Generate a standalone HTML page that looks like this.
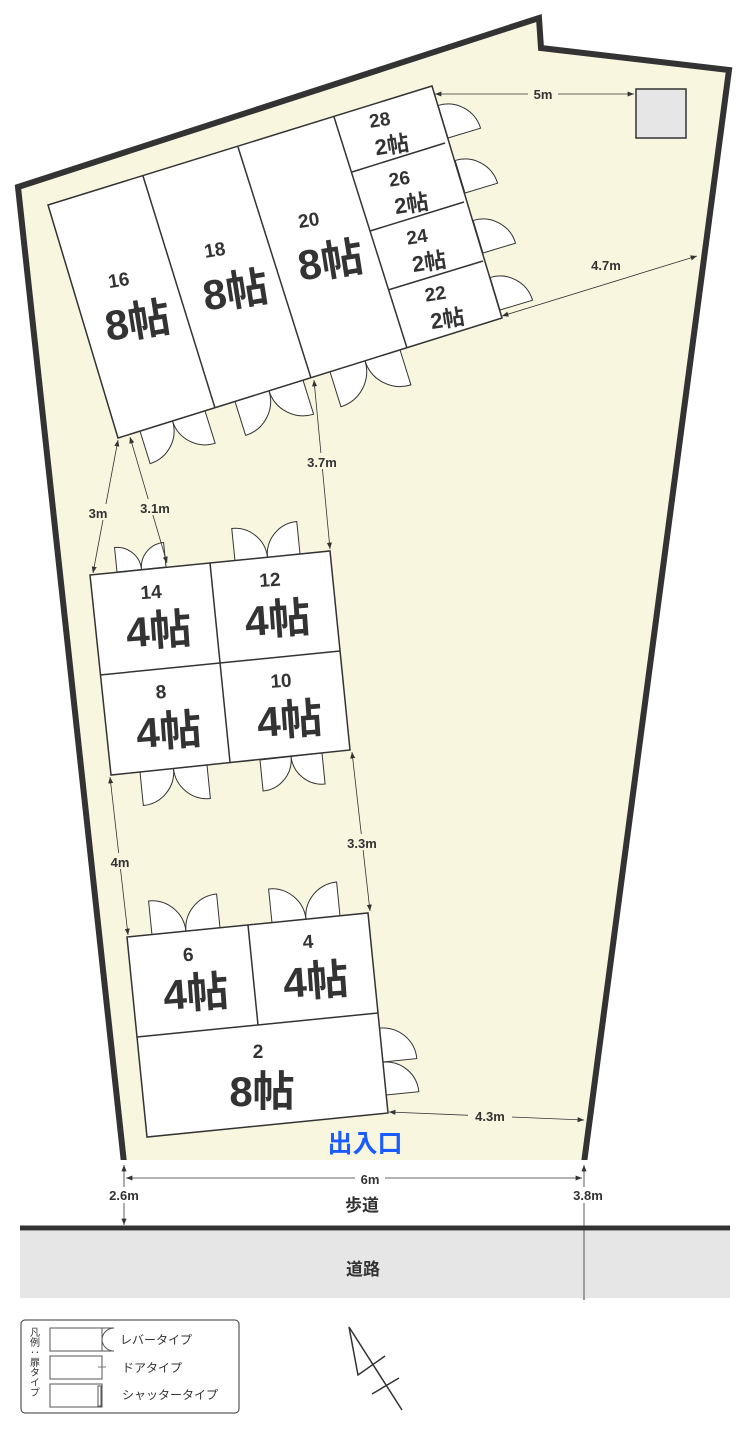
<!DOCTYPE html>
<html><head><meta charset="utf-8"><style>
html,body{margin:0;padding:0;background:#fff;}
svg{display:block;font-family:"Liberation Sans","Noto Sans CJK JP",sans-serif;}
.n{font-size:19px;font-weight:bold;fill:#333;}
.b{font-size:42px;font-weight:bold;fill:#333;}
.s{font-size:22px;font-weight:bold;fill:#333;}
.d{font-size:13px;font-weight:bold;fill:#333;}
.w{fill:#fff;stroke:#333;stroke-width:1.5;}
.l{stroke:#333;stroke-width:1.5;fill:none;}
.dm{stroke:#333;stroke-width:0.8;fill:none;marker-start:url(#a);marker-end:url(#a);}
</style></head><body>
<svg id="s" width="750" height="1435" viewBox="0 0 750 1435">
<defs><marker id="a" viewBox="0 0 10 10" refX="10" refY="5" markerWidth="8" markerHeight="8" orient="auto-start-reverse"><path d="M0,1 L10,5 L0,9 z" fill="#333"/></marker></defs>
<polygon points="18,187 539,18 541,48 729,70 584,1163 124,1163" fill="#f9f6df" stroke="#333" stroke-width="6" stroke-linejoin="miter"/>
<rect x="120" y="1160" width="470" height="8" fill="#fff"/>
<g id="doors"></g>
<!-- top building -->
<polygon class="w" points="48,205 432,86 502,318 118,438"/>
<g class="l">
<line x1="143" y1="176" x2="215" y2="408"/>
<line x1="238" y1="147" x2="311" y2="378"/>
<line x1="334" y1="117" x2="407" y2="348"/>
<line x1="352" y1="172" x2="445" y2="143"/>
<line x1="370" y1="231" x2="464" y2="202"/>
<line x1="388" y1="290" x2="483" y2="261"/>
</g>
<g transform="rotate(-9 130 300)"><text class="n" x="122" y="285" text-anchor="middle">16</text><text class="b" x="134" y="337" text-anchor="middle">8帖</text></g>
<g transform="rotate(-9 225 270)"><text class="n" x="218" y="255" text-anchor="middle">18</text><text class="b" x="232" y="307" text-anchor="middle">8帖</text></g>
<g transform="rotate(-9 320 240)"><text class="n" x="312" y="225" text-anchor="middle">20</text><text class="b" x="327" y="277" text-anchor="middle">8帖</text></g>
<g transform="rotate(-9 390 140)"><text class="n" x="383" y="125" text-anchor="middle">28</text><text class="s" x="391" y="153" text-anchor="middle">2帖</text></g>
<g transform="rotate(-9 408 195)"><text class="n" x="402" y="184" text-anchor="middle">26</text><text class="s" x="410" y="212" text-anchor="middle">2帖</text></g>
<g transform="rotate(-9 426 255)"><text class="n" x="420" y="242" text-anchor="middle">24</text><text class="s" x="428" y="270" text-anchor="middle">2帖</text></g>
<g transform="rotate(-9 444 310)"><text class="n" x="438" y="299" text-anchor="middle">22</text><text class="s" x="446" y="327" text-anchor="middle">2帖</text></g>
<!-- middle building -->
<polygon class="w" points="90,575 330,551 350,750 111,775"/>
<g class="l"><line x1="210" y1="563" x2="230" y2="762"/><line x1="100" y1="675" x2="340" y2="651"/></g>
<g transform="rotate(-4 160 620)"><text class="n" x="153" y="598" text-anchor="middle">14</text><text class="b" x="158" y="645" text-anchor="middle">4帖</text></g>
<g transform="rotate(-4 275 610)"><text class="n" x="272" y="586" text-anchor="middle">12</text><text class="b" x="277" y="634" text-anchor="middle">4帖</text></g>
<g transform="rotate(-4 165 720)"><text class="n" x="163" y="698" text-anchor="middle">8</text><text class="b" x="168" y="746" text-anchor="middle">4帖</text></g>
<g transform="rotate(-4 285 710)"><text class="n" x="283" y="687" text-anchor="middle">10</text><text class="b" x="289" y="735" text-anchor="middle">4帖</text></g>
<!-- bottom building -->
<polygon class="w" points="127,937 368,913 388,1113 147,1137"/>
<g class="l"><line x1="248" y1="925" x2="258" y2="1025"/><line x1="137" y1="1037" x2="378" y2="1013"/></g>
<g transform="rotate(-4 190 980)"><text class="n" x="190" y="961" text-anchor="middle">6</text><text class="b" x="195" y="1008" text-anchor="middle">4帖</text></g>
<g transform="rotate(-4 310 970)"><text class="n" x="310" y="948" text-anchor="middle">4</text><text class="b" x="315" y="996" text-anchor="middle">4帖</text></g>
<text class="n" x="258" y="1058" text-anchor="middle">2</text><text class="b" x="262" y="1106" text-anchor="middle">8帖</text>
<rect x="636" y="89" width="50" height="49" fill="#e6e6e6" stroke="#333" stroke-width="1.5"/>
<!-- dimensions -->
<line class="dm" x1="435" y1="94" x2="634" y2="94"/>
<rect x="528" y="86" width="30" height="16" fill="#f9f6df"/><text class="d" x="543" y="99" text-anchor="middle">5m</text>
<line class="dm" x1="502" y1="316" x2="697" y2="256"/>
<text class="d" x="606" y="270" text-anchor="middle">4.7m</text>
<line class="dm" x1="118" y1="440" x2="93" y2="573"/>
<rect x="82" y="504" width="30" height="16" fill="#f9f6df"/><text class="d" x="98" y="518" text-anchor="middle">3m</text>
<line class="dm" x1="130" y1="437" x2="167" y2="563"/>
<rect x="135" y="499" width="40" height="16" fill="#f9f6df"/><text class="d" x="155" y="513" text-anchor="middle">3.1m</text>
<line class="dm" x1="314" y1="380" x2="330" y2="549"/>
<rect x="302" y="453" width="40" height="16" fill="#f9f6df"/><text class="d" x="322" y="467" text-anchor="middle">3.7m</text>
<line class="dm" x1="352" y1="752" x2="370" y2="911"/>
<rect x="342" y="834" width="40" height="16" fill="#f9f6df"/><text class="d" x="362" y="848" text-anchor="middle">3.3m</text>
<line class="dm" x1="110" y1="777" x2="128" y2="935"/>
<rect x="106" y="853" width="30" height="16" fill="#f9f6df"/><text class="d" x="120" y="867" text-anchor="middle">4m</text>
<line class="dm" x1="389" y1="1112" x2="584" y2="1120"/>
<rect x="468" y="1107" width="44" height="16" fill="#f9f6df"/><text class="d" x="490" y="1121" text-anchor="middle">4.3m</text>
<text x="365" y="1152" text-anchor="middle" style="font-size:25px;font-weight:bold;fill:#1a5cff">出入口</text>
<line class="dm" x1="126" y1="1178" x2="582" y2="1178"/>
<rect x="355" y="1170" width="30" height="16" fill="#fff"/><text class="d" x="370" y="1184" text-anchor="middle">6m</text>
<line class="dm" x1="124" y1="1165" x2="124" y2="1225"/>
<rect x="104" y="1187" width="40" height="16" fill="#fff"/><text class="d" x="124" y="1200" text-anchor="middle">2.6m</text>
<line class="dm" x1="584" y1="1165" x2="584" y2="1300"/>
<rect x="568" y="1187" width="40" height="16" fill="#fff"/><text class="d" x="588" y="1200" text-anchor="middle">3.8m</text>
<text x="362" y="1211" text-anchor="middle" style="font-size:17px;fill:#333;font-weight:bold">歩道</text>
<rect x="20" y="1231" width="710" height="67" fill="#e6e6e6"/>
<line x1="20" y1="1228" x2="730" y2="1228" stroke="#333" stroke-width="5"/>
<line x1="584" y1="1231" x2="584" y2="1298" stroke="#333" stroke-width="0.8"/>
<text x="363" y="1275" text-anchor="middle" style="font-size:17px;fill:#333;font-weight:bold">道路</text>
<!-- legend -->
<rect x="21" y="1320" width="218" height="93" rx="4" fill="#fff" stroke="#333" stroke-width="1"/>
<text x="33" y="1327" style="font-size:10px;fill:#333;writing-mode:vertical-rl">凡例：扉タイプ</text>
<rect x="50" y="1328" width="52" height="23" fill="#fff" stroke="#555"/>
<path d="M102,1328 L114,1328 A12 12 0 0 0 102,1340 A12 12 0 0 0 114,1351 L102,1351" fill="none" stroke="#555"/>
<rect x="50" y="1356" width="52" height="23" fill="#fff" stroke="#555"/>
<line x1="98" y1="1367" x2="106" y2="1367" stroke="#777"/>
<rect x="50" y="1384" width="52" height="23" fill="#fff" stroke="#555"/>
<rect x="98" y="1386" width="3" height="20" fill="#fff" stroke="#555"/>
<text x="120" y="1344" style="font-size:12px;fill:#333">レバータイプ</text>
<text x="122" y="1372" style="font-size:12px;fill:#333">ドアタイプ</text>
<text x="122" y="1399" style="font-size:12px;fill:#333">シャッタータイプ</text>
<!-- compass -->
<g stroke="#333" stroke-width="1.5" fill="none">
<line x1="349" y1="1327" x2="402" y2="1410"/>
<polyline points="349,1327 358,1375 385,1356"/>
<line x1="372" y1="1394" x2="399" y2="1378"/>
</g>
</svg>
<script>
var g=document.getElementById('doors');
function leaf(hx,hy,nx,ny,tx,ty,r){
 var ox=hx+nx*r,oy=hy+ny*r,cx=hx+tx*r,cy=hy+ty*r;
 var sw=(nx*ty-ny*tx)>0?1:0;
 var p=document.createElementNS('http://www.w3.org/2000/svg','path');
 p.setAttribute('d','M'+hx+','+hy+' L'+ox+','+oy+' A'+r+','+r+' 0 0 '+sw+' '+cx+','+cy+' Z');
 p.setAttribute('fill','#fff');p.setAttribute('stroke','#333');p.setAttribute('stroke-width','1');
 g.appendChild(p);
}
function pair(ax,ay,bx,by,nx,ny){
 var dx=bx-ax,dy=by-ay,L=Math.hypot(dx,dy),tx=dx/L,ty=dy/L,r=L/2;
 leaf(ax,ay,nx,ny,tx,ty,r);leaf(bx,by,nx,ny,-tx,-ty,r);
}
var n1=[0.298,0.954];
[[140,205],[235,303],[330,400]].forEach(function(p){
 var y=function(x){return 438-0.3125*(x-118)};
 pair(p[0],y(p[0]),p[1],y(p[1]),n1[0],n1[1]);
});
[[448,138],[465,193],[483,253],[500,310]].forEach(function(h){
 leaf(h[0],h[1],0.958,-0.289,-0.289,-0.958,34);
});
pair(117,572,166,567,-0.0995,-0.995);
pair(235,561,300,554,-0.0995,-0.995);
pair(140,772,207,765,0.0995,0.995);
pair(260,760,322,753,0.0995,0.995);
pair(152,935,220,928,-0.0995,-0.995);
pair(272,923,340,916,-0.0995,-0.995);
leaf(383,1062,0.995,-0.1,-0.1,-0.995,34);
leaf(386,1095,0.995,-0.1,-0.1,-0.995,33);
</script>
</body></html>
